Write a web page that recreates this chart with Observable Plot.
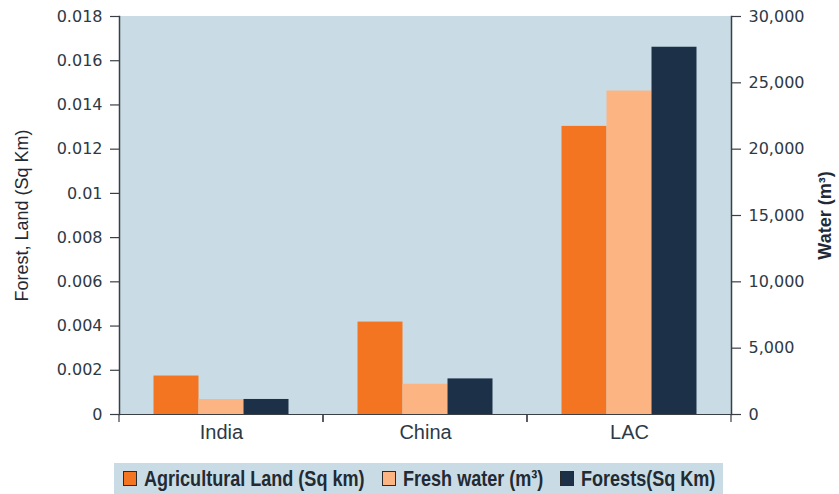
<!DOCTYPE html>
<html>
<head>
<meta charset="utf-8">
<script src="https://cdn.jsdelivr.net/npm/d3@7"></script>
<script src="https://cdn.jsdelivr.net/npm/@observablehq/plot@0.6"></script>
<style>
  html, body { margin: 0; padding: 0; background: #fff; }
  #chart svg { display: block; }
  #legend {
    margin-left: 114px; margin-top: 5px; width: 609px; height: 31px;
    background: #c9dce6; display: flex; align-items: center;
    box-sizing: border-box; padding-left: 9px; overflow: hidden;
    font-family: "Liberation Sans", Arial, sans-serif;
    font-size: 22px; font-weight: bold; color: #222a33;
  }
  #legend .item { display: flex; align-items: center; margin-right: 17px; white-space: nowrap; }
  #legend .sw { width: 12px; height: 13px; border: 1px solid #2a2a2a; margin-right: 7px; flex: none; }
  #legend .txt { display: inline-block; transform: scaleX(0.82); transform-origin: 0 50%; }
  .fxaxis text { font-size: 20px; }
</style>
</head>
<body>
<div id="chart"></div>
<div id="legend"></div>
<script>
const categories = ["India", "China", "LAC"];
const series = ["Agricultural Land (Sq km)", "Fresh water (m³)", "Forests(Sq Km)"];
const agriculturalLand = [0.00174, 0.00418, 0.01303];   // Sq km (left axis)
const freshWater = [1130, 2280, 24380];                  // m³ (right axis)
const forests = [0.00068, 0.00161, 0.01661];            // Sq km (left axis)
const leftTicks = [0, 0.002, 0.004, 0.006, 0.008, 0.01, 0.012, 0.014, 0.016, 0.018];
const leftTickLabels = ["0", "0.002", "0.004", "0.006", "0.008", "0.01", "0.012", "0.014", "0.016", "0.018"];
const rightTicks = [0, 5000, 10000, 15000, 20000, 25000, 30000];
const leftMax = 0.018;
const rightMax = 30000;
const colors = ["#f37521", "#fbb482", "#1c3148"];

const k = leftMax / rightMax; // map water onto the left scale
const rows = [];
categories.forEach((c, i) => {
  rows.push({category: c, series: series[0], value: agriculturalLand[i]});
  rows.push({category: c, series: series[1], value: freshWater[i] * k});
  rows.push({category: c, series: series[2], value: forests[i]});
});

const axisColor = "#3a3f45";
const textColor = "#2e3946";
const bg = "#c9dce6";

const chart = Plot.plot({
  width: 839,
  height: 458,
  marginLeft: 118.5,
  marginRight: 108.5,
  marginTop: 16,
  marginBottom: 44,
  style: {fontFamily: "'DejaVu Sans', sans-serif", fontSize: "16px", color: textColor, background: "transparent"},
  fx: {domain: categories, padding: 0, label: null},
  x: {domain: series, paddingInner: 0, paddingOuter: 0.75, axis: null},
  y: {domain: [0, leftMax], nice: false},
  color: {domain: series, range: colors},
  marks: [
    Plot.frame({fill: bg, stroke: bg, strokeWidth: 1}),
    Plot.barY(rows, {fx: "category", x: "series", y: "value", fill: "series"}),
    Plot.ruleY([0], {stroke: axisColor, strokeWidth: 1.2}),
    Plot.ruleY([0], {
      render(index, scales, values, dims) {
        const y0 = scales.y(0);
        const g = d3.create("svg:g").attr("stroke", axisColor).attr("stroke-width", 1.2);
        for (const x of [dims.marginLeft, dims.width - dims.marginRight]) {
          g.append("line").attr("x1", x).attr("x2", x).attr("y1", y0).attr("y2", y0 + 8);
        }
        return g.node();
      }
    }),
    Plot.frame({anchor: "left", facetAnchor: "left", stroke: axisColor, strokeWidth: 1.5}),
    Plot.frame({anchor: "right", facetAnchor: "right", stroke: axisColor, strokeWidth: 1.5}),
    Plot.axisY({
      anchor: "left", ticks: leftTicks,
      tickFormat: (d) => leftTickLabels[leftTicks.indexOf(d)],
      tickSize: 9, tickPadding: 8, stroke: axisColor, strokeWidth: 1.2,
      fill: textColor, label: null
    }),
    Plot.axisY({
      anchor: "left", ticks: [], tickSize: 0,
      fill: "#1f2a36", fontSize: 18, fontFamily: "'Liberation Sans', Arial, sans-serif",
      label: "Forest, Land (Sq Km)", labelAnchor: "center", labelArrow: "none", labelOffset: 104
    }),
    Plot.axisY({
      anchor: "right", ticks: rightTicks.map((w) => w * k),
      tickFormat: (d) => d3.format(",")(Math.round(d / k)),
      tickSize: 9, tickPadding: 8, stroke: axisColor, strokeWidth: 1.2,
      fill: textColor, label: null
    }),
    Plot.axisY({
      anchor: "right", ticks: [], tickSize: 0,
      fill: "#1f2a36", fontSize: 18, fontWeight: "bold", fontFamily: "'Liberation Sans', Arial, sans-serif",
      label: "Water (m³)", labelAnchor: "center", labelArrow: "none", labelOffset: 99
    }),
    Plot.axisFx({
      anchor: "bottom", tickSize: 0, tickPadding: 10, label: null,
      fill: textColor, fontSize: 20, className: "fxaxis",
      fontFamily: "'Liberation Sans', Arial, sans-serif"
    })
  ]
});
document.getElementById("chart").appendChild(chart);

const legend = d3.select("#legend");
series.forEach((s, i) => {
  const item = legend.append("div").attr("class", "item");
  item.append("div").attr("class", "sw").style("background", colors[i]);
  const t = item.append("span").attr("class", "txt").text(s);
  const w = t.node().offsetWidth;
  t.style("margin-right", (-(1 - 0.82) * w) + "px");
});
</script>
</body>
</html>
